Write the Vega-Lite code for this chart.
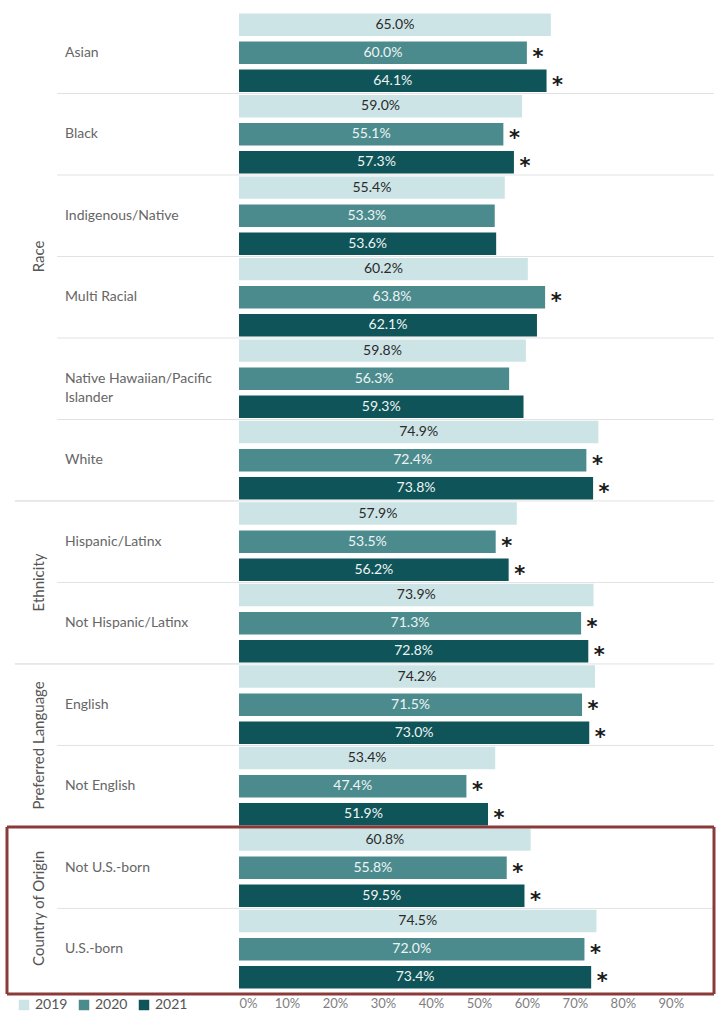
{
  "$schema": "https://vega.github.io/schema/vega-lite/v6.json",
  "background": "white",
  "padding": {"left": 5, "top": 12, "right": 2, "bottom": 0},
  "config": {"view": {"stroke": null}, "font": "Lato"},
  "datasets": {
    "bars": [
      {"sub": "Asian", "year": "2019", "value": 0.650, "sig": false},
      {"sub": "Asian", "year": "2020", "value": 0.600, "sig": true},
      {"sub": "Asian", "year": "2021", "value": 0.641, "sig": true},
      {"sub": "Black", "year": "2019", "value": 0.590, "sig": false},
      {"sub": "Black", "year": "2020", "value": 0.551, "sig": true},
      {"sub": "Black", "year": "2021", "value": 0.573, "sig": true},
      {"sub": "Indigenous/Native", "year": "2019", "value": 0.554, "sig": false},
      {"sub": "Indigenous/Native", "year": "2020", "value": 0.533, "sig": false},
      {"sub": "Indigenous/Native", "year": "2021", "value": 0.536, "sig": false},
      {"sub": "Multi Racial", "year": "2019", "value": 0.602, "sig": false},
      {"sub": "Multi Racial", "year": "2020", "value": 0.638, "sig": true},
      {"sub": "Multi Racial", "year": "2021", "value": 0.621, "sig": false},
      {"sub": "Native Hawaiian/Pacific Islander", "year": "2019", "value": 0.598, "sig": false},
      {"sub": "Native Hawaiian/Pacific Islander", "year": "2020", "value": 0.563, "sig": false},
      {"sub": "Native Hawaiian/Pacific Islander", "year": "2021", "value": 0.593, "sig": false},
      {"sub": "White", "year": "2019", "value": 0.749, "sig": false},
      {"sub": "White", "year": "2020", "value": 0.724, "sig": true},
      {"sub": "White", "year": "2021", "value": 0.738, "sig": true},
      {"sub": "Hispanic/Latinx", "year": "2019", "value": 0.579, "sig": false},
      {"sub": "Hispanic/Latinx", "year": "2020", "value": 0.535, "sig": true},
      {"sub": "Hispanic/Latinx", "year": "2021", "value": 0.562, "sig": true},
      {"sub": "Not Hispanic/Latinx", "year": "2019", "value": 0.739, "sig": false},
      {"sub": "Not Hispanic/Latinx", "year": "2020", "value": 0.713, "sig": true},
      {"sub": "Not Hispanic/Latinx", "year": "2021", "value": 0.728, "sig": true},
      {"sub": "English", "year": "2019", "value": 0.742, "sig": false},
      {"sub": "English", "year": "2020", "value": 0.715, "sig": true},
      {"sub": "English", "year": "2021", "value": 0.730, "sig": true},
      {"sub": "Not English", "year": "2019", "value": 0.534, "sig": false},
      {"sub": "Not English", "year": "2020", "value": 0.474, "sig": true},
      {"sub": "Not English", "year": "2021", "value": 0.519, "sig": true},
      {"sub": "Not U.S.-born", "year": "2019", "value": 0.608, "sig": false},
      {"sub": "Not U.S.-born", "year": "2020", "value": 0.558, "sig": true},
      {"sub": "Not U.S.-born", "year": "2021", "value": 0.595, "sig": true},
      {"sub": "U.S.-born", "year": "2019", "value": 0.745, "sig": false},
      {"sub": "U.S.-born", "year": "2020", "value": 0.720, "sig": true},
      {"sub": "U.S.-born", "year": "2021", "value": 0.734, "sig": true}
    ],
    "rows": [
      {"group": "Race", "sub": "Asian", "label": "Asian"},
      {"group": "Race", "sub": "Black", "label": "Black"},
      {"group": "Race", "sub": "Indigenous/Native", "label": "Indigenous/Native"},
      {"group": "Race", "sub": "Multi Racial", "label": "Multi Racial"},
      {"group": "Race", "sub": "Native Hawaiian/Pacific Islander", "label": "Native Hawaiian/Pacific\nIslander"},
      {"group": "Race", "sub": "White", "label": "White"},
      {"group": "Ethnicity", "sub": "Hispanic/Latinx", "label": "Hispanic/Latinx"},
      {"group": "Ethnicity", "sub": "Not Hispanic/Latinx", "label": "Not Hispanic/Latinx"},
      {"group": "Preferred Language", "sub": "English", "label": "English"},
      {"group": "Preferred Language", "sub": "Not English", "label": "Not English"},
      {"group": "Country of Origin", "sub": "Not U.S.-born", "label": "Not U.S.-born"},
      {"group": "Country of Origin", "sub": "U.S.-born", "label": "U.S.-born"}
    ],
    "groups": [
      {"group": "Race", "anchor": "Multi Racial"},
      {"group": "Ethnicity", "anchor": "Not Hispanic/Latinx"},
      {"group": "Preferred Language", "anchor": "Not English"},
      {"group": "Country of Origin", "anchor": "U.S.-born"}
    ]
  },
  "spacing": 0,
  "bounds": "flush",
  "resolve": {"scale": {"y": "shared"}},
  "hconcat": [
    {
      "width": 232,
      "height": 982,
      "layer": [
        {
          "data": {"name": "rows"},
          "transform": [{"filter": {"field": "sub", "oneOf": ["Black", "Indigenous/Native", "Multi Racial", "Native Hawaiian/Pacific Islander", "White", "Not Hispanic/Latinx", "Not English", "U.S.-born"]}}],
          "mark": {"type": "rule", "color": "#e2e2e2", "strokeWidth": 1},
          "encoding": {
            "y": {"field": "sub", "type": "nominal", "bandPosition": 0, "scale": {"domain": ["Asian","Black","Indigenous/Native","Multi Racial","Native Hawaiian/Pacific Islander","White","Hispanic/Latinx","Not Hispanic/Latinx","English","Not English","Not U.S.-born","U.S.-born"], "paddingInner": 0, "paddingOuter": 0.025, "align": 0}, "axis": null},
            "x": {"datum": 0.216, "type": "quantitative", "scale": {"domain": [0, 1], "nice": false}, "axis": null},
            "x2": {"datum": 1}
          }
        },
        {
          "data": {"name": "rows"},
          "transform": [{"filter": {"field": "sub", "oneOf": ["Hispanic/Latinx", "English"]}}],
          "mark": {"type": "rule", "color": "#d4d4d4", "strokeWidth": 1},
          "encoding": {
            "y": {"field": "sub", "type": "nominal", "bandPosition": 0, "axis": null},
            "x": {"datum": 0.034, "type": "quantitative", "scale": {"domain": [0, 1], "nice": false}, "axis": null},
            "x2": {"datum": 1}
          }
        },
        {
          "data": {"name": "rows"},
          "transform": [{"filter": {"field": "sub", "equal": "Not U.S.-born"}}],
          "mark": {"type": "rule", "color": "#8b3a3a", "strokeWidth": 3},
          "encoding": {
            "y": {"field": "sub", "type": "nominal", "bandPosition": 0, "axis": null},
            "x": {"datum": 0, "type": "quantitative", "scale": {"domain": [0, 1], "nice": false}, "axis": null},
            "x2": {"datum": 1}
          }
        },
        {
          "data": {"name": "rows"},
          "transform": [{"filter": {"field": "sub", "equal": "Not U.S.-born"}}],
          "mark": {"type": "rule", "color": "#8b3a3a", "strokeWidth": 3},
          "encoding": {
            "y": {"value": "height"},
            "x": {"datum": 0, "type": "quantitative", "scale": {"domain": [0, 1], "nice": false}, "axis": null},
            "x2": {"datum": 1}
          }
        },
        {
          "data": {"name": "rows"},
          "transform": [{"filter": {"field": "sub", "equal": "Not U.S.-born"}}],
          "mark": {"type": "rule", "color": "#8b3a3a", "strokeWidth": 3},
          "encoding": {
            "y": {"field": "sub", "type": "nominal", "bandPosition": 0, "axis": null},
            "y2": {"value": "height"},
            "x": {"datum": 0, "type": "quantitative", "scale": {"domain": [0, 1], "nice": false}, "axis": null}
          }
        },
        {
          "data": {"name": "rows"},
          "mark": {"type": "text", "align": "left", "baseline": "middle", "fontSize": 14, "color": "#666666", "lineBreak": "\n", "lineHeight": 19},
          "encoding": {
            "y": {"field": "sub", "type": "nominal", "axis": null},
            "x": {"datum": 0.25, "type": "quantitative", "scale": {"domain": [0, 1], "nice": false}, "axis": null},
            "text": {"field": "label"}
          }
        },
        {
          "data": {"name": "groups"},
          "mark": {"type": "text", "align": "center", "baseline": "middle", "fontSize": 15, "color": "#555555", "angle": 270},
          "encoding": {
            "y": {"field": "anchor", "type": "nominal", "bandPosition": 0, "axis": null},
            "x": {"datum": 0.138, "type": "quantitative", "scale": {"domain": [0, 1], "nice": false}, "axis": null},
            "text": {"field": "group"}
          }
        }
      ]
    },
    {
      "width": 475,
      "height": 982,
      "data": {"name": "bars"},
      "resolve": {"scale": {"x": "independent"}},
      "layer": [
        {
          "transform": [{"filter": "datum.year === '2019'"}, {"filter": {"field": "sub", "oneOf": ["Black", "Indigenous/Native", "Multi Racial", "Native Hawaiian/Pacific Islander", "White", "Hispanic/Latinx", "Not Hispanic/Latinx", "English", "Not English", "U.S.-born"]}}],
          "mark": {"type": "rule", "color": "#e2e2e2", "strokeWidth": 1},
          "encoding": {
            "y": {"field": "sub", "type": "nominal", "bandPosition": 0, "scale": {"domain": ["Asian","Black","Indigenous/Native","Multi Racial","Native Hawaiian/Pacific Islander","White","Hispanic/Latinx","Not Hispanic/Latinx","English","Not English","Not U.S.-born","U.S.-born"], "paddingInner": 0, "paddingOuter": 0.025, "align": 0}, "axis": null}
          }
        },
        {
          "mark": {"type": "bar", "height": {"band": 1}},
          "encoding": {
            "y": {"field": "sub", "type": "nominal", "axis": null},
            "yOffset": {"field": "year", "type": "nominal", "scale": {"domain": ["2019", "2020", "2021"], "paddingInner": 0.2, "paddingOuter": 0.05}},
            "x": {"field": "value", "type": "quantitative", "scale": {"domain": [0, 0.99], "nice": false},
              "axis": {"values": [0, 0.1, 0.2, 0.3, 0.4, 0.5, 0.6, 0.7, 0.8, 0.9], "format": ".0%", "domain": false, "ticks": false, "grid": false, "labelFontSize": 13, "labelColor": "#808080", "labelPadding": 3, "title": null}},
            "color": {"field": "year", "type": "nominal", "scale": {"domain": ["2019", "2020", "2021"], "range": ["#cde4e7", "#4b8b8d", "#0e5458"]},
              "legend": {"orient": "none", "legendX": 10, "legendY": 986, "direction": "horizontal", "title": null, "symbolType": "square", "symbolSize": 110, "symbolStrokeWidth": 0, "labelFontSize": 14, "labelColor": "#555555", "columnPadding": 9, "labelOffset": 4}}
          }
        },
        {
          "mark": {"type": "text", "align": "center", "baseline": "middle", "fontSize": 14},
          "encoding": {
            "y": {"field": "sub", "type": "nominal", "axis": null},
            "yOffset": {"field": "year", "type": "nominal"},
            "x": {"field": "value", "type": "quantitative", "scale": {"domain": [0, 1.98], "nice": false}, "axis": null},
            "text": {"field": "value", "format": ".1%"},
            "color": {"condition": {"test": "datum.year === '2019'", "value": "#2a2a2a"}, "value": "#eef4f4"}
          }
        },
        {
          "transform": [{"filter": "datum.sig"}],
          "mark": {"type": "text", "text": "*", "font": "DejaVu Sans", "align": "center", "baseline": "middle", "fontSize": 21, "fontWeight": "bold", "color": "#1a1a1a", "dx": 11, "dy": 5},
          "encoding": {
            "y": {"field": "sub", "type": "nominal", "axis": null},
            "yOffset": {"field": "year", "type": "nominal"},
            "x": {"field": "value", "type": "quantitative", "scale": {"domain": [0, 0.99], "nice": false}, "axis": null}
          }
        },
        {
          "transform": [{"filter": "datum.year === '2019' && datum.sub === 'Not U.S.-born'"}],
          "mark": {"type": "rule", "color": "#8b3a3a", "strokeWidth": 3},
          "encoding": {
            "y": {"field": "sub", "type": "nominal", "bandPosition": 0, "axis": null}
          }
        },
        {
          "transform": [{"filter": "datum.year === '2019' && datum.sub === 'Not U.S.-born'"}],
          "mark": {"type": "rule", "color": "#8b3a3a", "strokeWidth": 3},
          "encoding": {
            "y": {"value": "height"}
          }
        },
        {
          "transform": [{"filter": "datum.year === '2019' && datum.sub === 'Not U.S.-born'"}],
          "mark": {"type": "rule", "color": "#8b3a3a", "strokeWidth": 3},
          "encoding": {
            "y": {"field": "sub", "type": "nominal", "bandPosition": 0, "axis": null},
            "y2": {"value": "height"},
            "x": {"datum": 0.99, "type": "quantitative", "scale": {"domain": [0, 0.99], "nice": false}, "axis": null}
          }
        }
      ]
    }
  ]
}
